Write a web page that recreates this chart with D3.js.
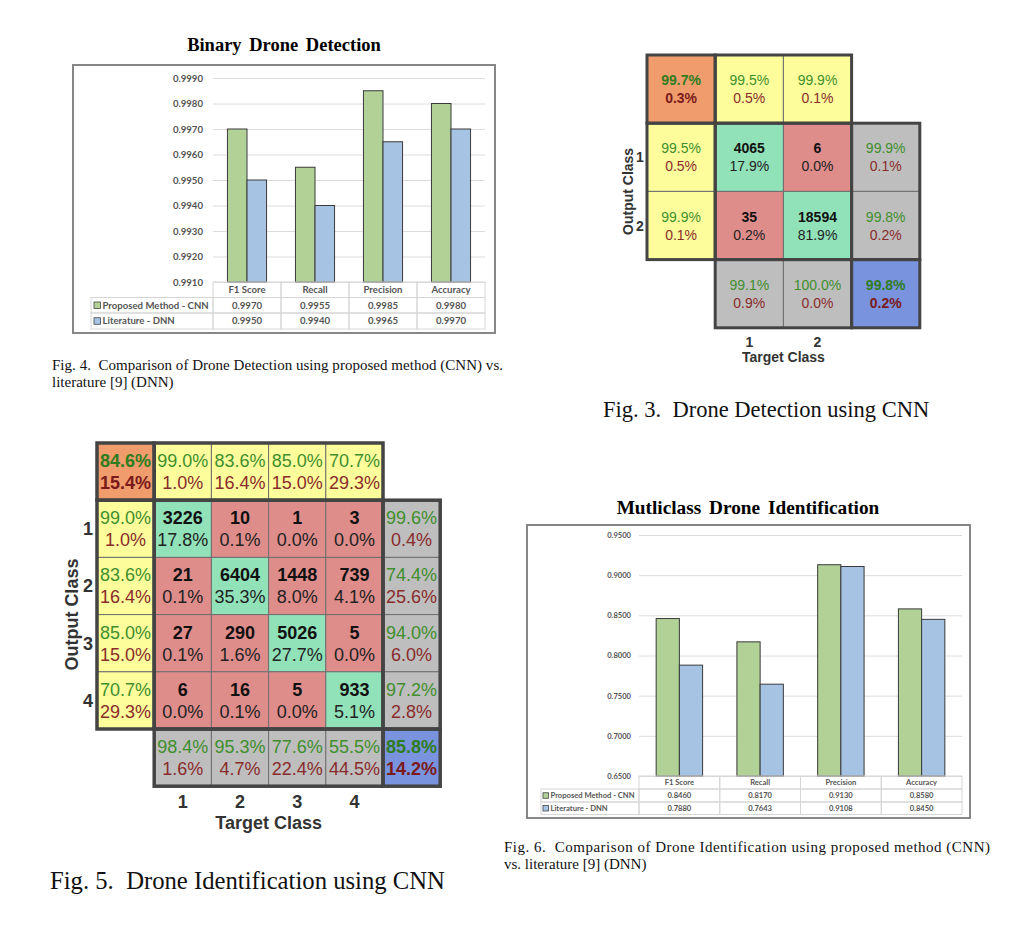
<!DOCTYPE html>
<html><head><meta charset="utf-8">
<script src="https://cdn.jsdelivr.net/npm/d3@7"></script>
<style>body{margin:0;background:#fff}svg{display:block}</style>
</head><body>
<svg id="c" width="1024" height="937"></svg>
<script>
// ---------------- DATA ----------------
const metrics = ["F1 Score", "Recall", "Precision", "Accuracy"];
const seriesNames = ["Proposed Method - CNN", "Literature - DNN"];

const binaryCNN = [0.9970, 0.9955, 0.9985, 0.9980];
const binaryDNN = [0.9950, 0.9940, 0.9965, 0.9970];
const binaryTicks = [0.9910, 0.9920, 0.9930, 0.9940, 0.9950, 0.9960, 0.9970, 0.9980, 0.9990];

const multiCNN = [0.8460, 0.8170, 0.9130, 0.8580];
const multiDNN = [0.7880, 0.7643, 0.9108, 0.8450];
const multiTicks = [0.6500, 0.7000, 0.7500, 0.8000, 0.8500, 0.9000, 0.9500];

// Fig. 3 confusion matrix (2 classes)
const cm2Labels = ["1", "2"];
const cm2Counts = [[4065, 6], [35, 18594]];
const cm2Pct = [[17.9, 0.0], [0.2, 81.9]];
const cm2TopOk = [99.5, 99.9], cm2TopErr = [0.5, 0.1];
const cm2LeftOk = [99.5, 99.9], cm2LeftErr = [0.5, 0.1];
const cm2RightOk = [99.9, 99.8], cm2RightErr = [0.1, 0.2];
const cm2BottomOk = [99.1, 100.0], cm2BottomErr = [0.9, 0.0];
const cm2Corner = [99.7, 0.3];
const cm2Overall = [99.8, 0.2];

// Fig. 5 confusion matrix (4 classes)
const cm4Labels = ["1", "2", "3", "4"];
const cm4Counts = [[3226, 10, 1, 3], [21, 6404, 1448, 739], [27, 290, 5026, 5], [6, 16, 5, 933]];
const cm4Pct = [[17.8, 0.1, 0.0, 0.0], [0.1, 35.3, 8.0, 4.1], [0.1, 1.6, 27.7, 0.0], [0.0, 0.1, 0.0, 5.1]];
const cm4TopOk = [99.0, 83.6, 85.0, 70.7], cm4TopErr = [1.0, 16.4, 15.0, 29.3];
const cm4LeftOk = [99.0, 83.6, 85.0, 70.7], cm4LeftErr = [1.0, 16.4, 15.0, 29.3];
const cm4RightOk = [99.6, 74.4, 94.0, 97.2], cm4RightErr = [0.4, 25.6, 6.0, 2.8];
const cm4BottomOk = [98.4, 95.3, 77.6, 55.5], cm4BottomErr = [1.6, 4.7, 22.4, 44.5];
const cm4Corner = [84.6, 15.4];
const cm4Overall = [85.8, 14.2];

// ---------------- STYLE ----------------
const C = {
  green: "#b1d196", blue: "#a7c3e3", barStroke: "#3a3a3a",
  grid: "#dcdcdc", tableLine: "#d6d6d6", axisText: "#555", frame: "#7a7a7a",
  orange: "#f19c6d", yellow: "#fdfd9c", cmGreen: "#91e2b9", cmRed: "#df8d8b",
  gray: "#bebebe", cmBlue: "#7a93de", okText: "#3f8f2c", errText: "#8a2b2b",
  okBold: "#2f7d1f", errBold: "#7a1a1a", thick: "#444", thin: "#6e6e6e"
};
const serif = "'Liberation Serif','Times New Roman',serif";
const sans = "'Liberation Sans',Arial,Helvetica,sans-serif";
const excel = "Lato,'Open Sans',sans-serif";

const svg = d3.select("#c");
svg.append("rect").attr("width", 1024).attr("height", 937).attr("fill", "#fff");

// ---------------- BAR CHART + DATA TABLE ----------------
function barChart(cfg) {
  const g = svg.append("g");
  g.append("text").attr("x", cfg.titleX).attr("y", cfg.titleY)
    .attr("text-anchor", "middle").attr("font-family", serif).attr("font-weight", "bold")
    .attr("font-size", cfg.titleSize).attr("word-spacing", 3).attr("fill", "#000").text(cfg.title);

  const [fx0, fy0, fx1, fy1] = cfg.frame;
  g.append("rect").attr("x", fx0).attr("y", fy0).attr("width", fx1 - fx0).attr("height", fy1 - fy0)
    .attr("fill", "#fff").attr("stroke", C.frame).attr("stroke-width", 1.8);

  const y = d3.scaleLinear().domain([cfg.ticks[0], cfg.ticks[cfg.ticks.length - 1]])
    .range([cfg.plotBottom, cfg.plotTop]);
  const x = d3.scaleBand().domain(metrics).range([cfg.plotLeft, cfg.plotRight]);
  const bw = x.bandwidth();
  const inner = d3.scaleBand().domain([0, 1])
    .range([bw * (1 - cfg.groupFrac) / 2, bw * (1 + cfg.groupFrac) / 2]);

  const axis = d3.axisLeft(y).tickValues(cfg.ticks).tickFormat(d3.format(".4f"))
    .tickSize(-(cfg.plotRight - cfg.plotLeft)).tickPadding(cfg.plotLeft - cfg.labelRight);
  const ag = g.append("g").attr("transform", `translate(${cfg.plotLeft},0)`).call(axis);
  ag.select(".domain").remove();
  ag.selectAll("line").attr("stroke", C.grid).attr("stroke-width", 1);
  ag.selectAll("text").attr("font-family", excel).attr("font-weight", "bold")
    .attr("font-size", cfg.fs).attr("fill", C.axisText);

  const series = [cfg.cnn, cfg.dnn];
  const colors = [C.green, C.blue];
  series.forEach((vals, si) => {
    g.selectAll(null).data(metrics).enter().append("rect")
      .attr("x", (d) => x(d) + inner(si))
      .attr("y", (d, i) => y(vals[i]))
      .attr("width", inner.bandwidth())
      .attr("height", (d, i) => y(cfg.ticks[0]) - y(vals[i]))
      .attr("fill", colors[si]).attr("stroke", C.barStroke).attr("stroke-width", 1);
  });

  // data table
  const rows = cfg.tableRows; // [top, r1, r2, bottom]
  const t = g.append("g");
  metrics.forEach((m, i) => {
    for (let r = 0; r < 3; r++) {
      t.append("rect").attr("x", x(m)).attr("y", rows[r]).attr("width", bw)
        .attr("height", rows[r + 1] - rows[r]).attr("fill", "none")
        .attr("stroke", C.tableLine).attr("stroke-width", 1);
    }
    t.append("text").attr("x", x(m) + bw / 2).attr("y", (rows[0] + rows[1]) / 2)
      .attr("dy", "0.35em").attr("text-anchor", "middle").text(m);
    series.forEach((vals, si) => {
      t.append("text").attr("x", x(m) + bw / 2).attr("y", (rows[si + 1] + rows[si + 2]) / 2)
        .attr("dy", "0.35em").attr("text-anchor", "middle").text(d3.format(".4f")(vals[i]));
    });
  });
  seriesNames.forEach((name, si) => {
    const yc = (rows[si + 1] + rows[si + 2]) / 2;
    t.append("rect").attr("x", cfg.legendLeft).attr("y", rows[si + 1])
      .attr("width", cfg.plotLeft - cfg.legendLeft).attr("height", rows[si + 2] - rows[si + 1])
      .attr("fill", "none").attr("stroke", C.tableLine).attr("stroke-width", 1);
    t.append("rect").attr("x", cfg.swatchX).attr("y", yc - cfg.sw / 2)
      .attr("width", cfg.sw).attr("height", cfg.sw)
      .attr("fill", colors[si]).attr("stroke", "#444").attr("stroke-width", 0.8);
    t.append("text").attr("x", cfg.swatchX + cfg.sw + 2).attr("y", yc).attr("dy", "0.35em")
      .attr("text-anchor", "start").text(name);
  });
  t.selectAll("text").attr("font-family", excel).attr("font-weight", "bold")
    .attr("font-size", cfg.fs).attr("fill", C.axisText);
}

barChart({
  title: "Binary Drone Detection", titleX: 284, titleY: 51, titleSize: 18.5,
  frame: [73, 65, 495, 333],
  plotLeft: 213, plotRight: 485, plotTop: 78, plotBottom: 282, labelRight: 203,
  ticks: binaryTicks, cnn: binaryCNN, dnn: binaryDNN, groupFrac: 0.575,
  tableRows: [282, 297.5, 313, 329], legendLeft: 91, swatchX: 94, sw: 6.5, fs: 9.6
});

barChart({
  title: "Mutliclass Drone Identification", titleX: 748, titleY: 514, titleSize: 19.3,
  frame: [527, 525, 970, 818],
  plotLeft: 639, plotRight: 962, plotTop: 535, plotBottom: 776, labelRight: 631,
  ticks: multiTicks, cnn: multiCNN, dnn: multiDNN, groupFrac: 0.575,
  tableRows: [776, 789, 802, 814.5], legendLeft: 541, swatchX: 543, sw: 5.5, fs: 7.6
});

// ---------------- CONFUSION MATRICES ----------------
const pct = (v) => v.toFixed(1) + "%";

function confMat(cfg) {
  const n = cfg.labels.length;
  const idx = d3.range(n + 2);
  const xs = d3.scaleBand().domain(idx).range([cfg.x0, cfg.x0 + cfg.cell * (n + 2)]);
  const ys = d3.scaleBand().domain(idx).range([cfg.y0, cfg.y0 + cfg.cell * (n + 2)]);
  const cells = [];
  const sum = (c, r, fill, a, b, bold) => cells.push({
    c, r, fill, l1: pct(a), l2: pct(b),
    c1: bold ? C.okBold : C.okText, c2: bold ? C.errBold : C.errText,
    w1: bold ? "bold" : "normal", w2: bold ? "bold" : "normal"
  });
  sum(0, 0, C.orange, cfg.corner[0], cfg.corner[1], true);
  for (let i = 0; i < n; i++) {
    sum(i + 1, 0, C.yellow, cfg.topOk[i], cfg.topErr[i], false);
    sum(0, i + 1, C.yellow, cfg.leftOk[i], cfg.leftErr[i], false);
    sum(n + 1, i + 1, C.gray, cfg.rightOk[i], cfg.rightErr[i], false);
    sum(i + 1, n + 1, C.gray, cfg.bottomOk[i], cfg.bottomErr[i], false);
    for (let j = 0; j < n; j++) {
      cells.push({
        c: j + 1, r: i + 1, fill: i === j ? C.cmGreen : C.cmRed,
        l1: String(cfg.counts[i][j]), l2: pct(cfg.pct[i][j]),
        c1: "#111", c2: "#222", w1: "bold", w2: "normal"
      });
    }
  }
  sum(n + 1, n + 1, C.cmBlue, cfg.overall[0], cfg.overall[1], true);

  const g = svg.append("g");
  const cg = g.selectAll("g.cell").data(cells).enter().append("g");
  cg.append("rect").attr("x", (d) => xs(d.c)).attr("y", (d) => ys(d.r))
    .attr("width", xs.bandwidth()).attr("height", ys.bandwidth())
    .attr("fill", (d) => d.fill).attr("stroke", C.thin).attr("stroke-width", 1);
  const base = 0.358 * cfg.fs;
  cg.append("text").attr("x", (d) => xs(d.c) + xs.bandwidth() / 2)
    .attr("y", (d) => ys(d.r) + ys.bandwidth() / 2 - cfg.off + base)
    .attr("fill", (d) => d.c1).attr("font-weight", (d) => d.w1).text((d) => d.l1);
  cg.append("text").attr("x", (d) => xs(d.c) + xs.bandwidth() / 2)
    .attr("y", (d) => ys(d.r) + ys.bandwidth() / 2 + cfg.off + base)
    .attr("fill", (d) => d.c2).attr("font-weight", (d) => d.w2).text((d) => d.l2);
  cg.selectAll("text").attr("text-anchor", "middle").attr("font-family", sans)
    .attr("font-size", cfg.fs);

  const blocks = [[0, 0, 0, 0], [1, 0, n, 0], [0, 1, 0, n], [1, 1, n, n],
    [n + 1, 1, n + 1, n], [1, n + 1, n, n + 1], [n + 1, n + 1, n + 1, n + 1]];
  g.selectAll("rect.block").data(blocks).enter().append("rect")
    .attr("x", (d) => xs(d[0])).attr("y", (d) => ys(d[1]))
    .attr("width", (d) => xs(d[2]) + xs.bandwidth() - xs(d[0]))
    .attr("height", (d) => ys(d[3]) + ys.bandwidth() - ys(d[1]))
    .attr("fill", "none").attr("stroke", C.thick).attr("stroke-width", cfg.thickW);

  // axis labels
  const lab = g.append("g").attr("font-family", sans).attr("font-weight", "bold")
    .attr("fill", "#333").attr("font-size", cfg.labFs);
  cfg.labels.forEach((l, i) => {
    lab.append("text").attr("x", cfg.rowLabelX).attr("y", ys(i + 1) + ys.bandwidth() / 2)
      .attr("dy", "0.36em").attr("text-anchor", "middle").text(l);
    lab.append("text").attr("x", xs(i + 1) + xs.bandwidth() / 2).attr("y", cfg.colLabelY)
      .attr("dy", "0.36em").attr("text-anchor", "middle").text(l);
  });
  const midY = (ys(1) + ys(n) + ys.bandwidth()) / 2;
  lab.append("text").attr("transform", `translate(${cfg.outX},${midY}) rotate(-90)`)
    .attr("dy", "0.36em").attr("text-anchor", "middle").text("Output Class");
  lab.append("text").attr("x", (xs(1) + xs(n) + xs.bandwidth()) / 2).attr("y", cfg.targetY)
    .attr("dy", "0.36em").attr("text-anchor", "middle").text("Target Class");
}

confMat({
  labels: cm2Labels, counts: cm2Counts, pct: cm2Pct,
  topOk: cm2TopOk, topErr: cm2TopErr, leftOk: cm2LeftOk, leftErr: cm2LeftErr,
  rightOk: cm2RightOk, rightErr: cm2RightErr, bottomOk: cm2BottomOk, bottomErr: cm2BottomErr,
  corner: cm2Corner, overall: cm2Overall,
  x0: 647, y0: 55, cell: 68.2, fs: 14, off: 9, thickW: 3,
  labFs: 14, rowLabelX: 640, colLabelY: 342, outX: 628, targetY: 357
});

confMat({
  labels: cm4Labels, counts: cm4Counts, pct: cm4Pct,
  topOk: cm4TopOk, topErr: cm4TopErr, leftOk: cm4LeftOk, leftErr: cm4LeftErr,
  rightOk: cm4RightOk, rightErr: cm4RightErr, bottomOk: cm4BottomOk, bottomErr: cm4BottomErr,
  corner: cm4Corner, overall: cm4Overall,
  x0: 97, y0: 443, cell: 57.2, fs: 18, off: 11, thickW: 3.5,
  labFs: 18, rowLabelX: 88, colLabelY: 802, outX: 72, targetY: 823
});

// ---------------- CAPTIONS ----------------
const cap = svg.append("g").attr("font-family", serif).attr("fill", "#111");
cap.append("text").attr("x", 52).attr("y", 370).attr("font-size", 15)
  .attr("textLength", 451).attr("lengthAdjust", "spacing")
  .attr("xml:space", "preserve").text("Fig. 4.  Comparison of Drone Detection using proposed method (CNN) vs.");
cap.append("text").attr("x", 52).attr("y", 387).attr("font-size", 15).text("literature [9] (DNN)");
cap.append("text").attr("x", 603).attr("y", 417).attr("font-size", 22.5)
  .attr("xml:space", "preserve").text("Fig. 3.  Drone Detection using CNN");
cap.append("text").attr("x", 50).attr("y", 889).attr("font-size", 24.7)
  .attr("xml:space", "preserve").text("Fig. 5.  Drone Identification using CNN");
cap.append("text").attr("x", 504).attr("y", 852).attr("font-size", 15)
  .attr("textLength", 486).attr("lengthAdjust", "spacing")
  .attr("xml:space", "preserve").text("Fig. 6.  Comparison of Drone Identification using proposed method (CNN)");
cap.append("text").attr("x", 504).attr("y", 869).attr("font-size", 15).text("vs. literature [9] (DNN)");
</script>
</body></html>
